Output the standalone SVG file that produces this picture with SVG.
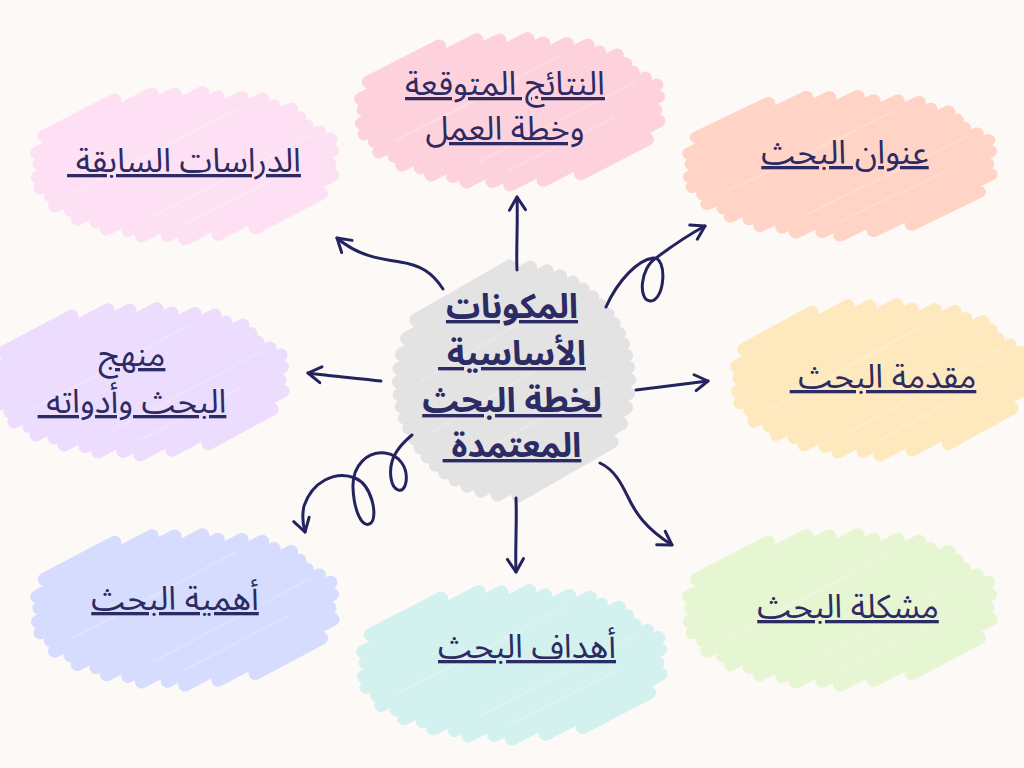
<svg xmlns="http://www.w3.org/2000/svg" xmlns:xlink="http://www.w3.org/1999/xlink" width="1024" height="768" viewBox="0 0 1024 768">
<style>
.sc{fill:none;stroke:currentColor;stroke-width:13;stroke-linecap:round;stroke-linejoin:round}
.tx{fill:none;stroke:#ffffff;stroke-opacity:.2;stroke-width:2;stroke-linecap:round}
.lbl{font-family:"Noto Sans Arabic","Noto Sans","DejaVu Sans",sans-serif;font-size:33px;fill:#2c2b63;text-anchor:middle;direction:rtl;text-decoration:underline;white-space:pre}
.ctr{font-family:"Noto Sans Arabic","Noto Sans","DejaVu Sans",sans-serif;font-size:34px;font-weight:bold;fill:#2c2b63;text-anchor:middle;direction:rtl;text-decoration:underline;white-space:pre}
.ar{fill:none;stroke:#23235f;stroke-width:3;stroke-linecap:round;stroke-linejoin:round}
</style>
<defs>
<symbol id="blob" viewBox="0 0 300 160" preserveAspectRatio="none" overflow="visible">
<path class="sc" d="M14,52 L82,16 M6.7,68.9 L118,9.7 M9,80 L140,10 M7.5,93.4 L167,8.6 M10,104 L182,13 M19.9,111.8 L205,13.4 M24,122 L225,15 M39,126.4 L236,22 M46,135 L253,25 M64,138 L261,33.6 M74,145 L268,42 M95,146.6 L280,48 M108,152 L291,55 M133,151.4 L292.5,66.6 M150,155 L290,80 M182,150.3 L293,91 M218,143.7 L282,109.3"/>
<path class="tx" d="M40,110 L200,25 M120,132 L270,52 M70,95 L160,48 M150,140 L250,88"/>
</symbol>
<symbol id="disc" viewBox="0 0 260 240" preserveAspectRatio="none" overflow="visible">
<path class="sc" d="M35,60.5 L126,8 M26,78.5 L146,9 M21,94 L162,12.6 M18.6,108 L175,17.5 M18,121 L187,23.6 M18.8,133.4 L197,30.4 M20.8,145 L206,38 M24,156 L214,46 M28,166 L221,54.7 M33,176 L227,64 M39,185 L232,73.7 M46,194 L236,84 M54,202 L239,95 M63,209.6 L241,106.6 M73,216.4 L242,118.8 M84.6,222.5 L241,132 M98,227.4 L239,146 M114,231 L234,161.5 M134,232 L225,179.5"/>
<path class="tx" d="M50,170 L200,80 M80,200 L220,120 M40,120 L150,55"/>
</symbol>
<marker id="head" viewBox="-16 -10 20 20" markerWidth="20" markerHeight="20" markerUnits="userSpaceOnUse" refX="0" refY="0" orient="auto">
<path d="M-13,-8 L0,0 L-13,8" fill="none" stroke="#23235f" stroke-width="3" stroke-linecap="round" stroke-linejoin="round"/>
</marker>
</defs>
<rect width="1024" height="768" fill="#fdf9f6"/>

<g id="node-previous-studies">
<use xlink:href="#blob" href="#blob" x="30" y="84" width="310" height="160" color="#fde0f3"/>
<text class="lbl" x="184" y="172">الدراسات السابقة </text>
</g>
<g id="node-expected-results">
<use xlink:href="#blob" href="#blob" x="354" y="30" width="312" height="160" color="#fed2dc"/>
<text class="lbl" x="505" y="95">النتائج المتوقعة</text>
<text class="lbl" x="505" y="140">وخطة العمل</text>
</g>
<g id="node-title">
<use xlink:href="#blob" href="#blob" x="682" y="88" width="316" height="152" color="#ffd3c6"/>
<text class="lbl" x="845" y="164">عنوان البحث</text>
</g>
<g id="node-introduction">
<use xlink:href="#blob" href="#blob" x="730" y="296" width="300" height="164" color="#fde9bd"/>
<text class="lbl" x="883" y="388">مقدمة البحث </text>
</g>
<g id="node-methodology">
<use xlink:href="#blob" href="#blob" x="-10" y="300" width="300" height="160" color="#ecdcfd"/>
<text class="lbl" x="132" y="366">منهج</text>
<text class="lbl" x="132" y="413">البحث وأدواته </text>
</g>
<g id="node-problem">
<use xlink:href="#blob" href="#blob" x="682" y="526" width="316" height="164" color="#e6f5d2"/>
<text class="lbl" x="848" y="618">مشكلة البحث</text>
</g>
<g id="node-objectives">
<use xlink:href="#blob" href="#blob" x="356" y="582" width="312" height="162" color="#d3f1ee"/>
<text class="lbl" x="527" y="658">أهداف البحث</text>
</g>
<g id="node-importance">
<use xlink:href="#blob" href="#blob" x="30" y="526" width="310" height="164" color="#d5dcfd"/>
<text class="lbl" x="175" y="610">أهمية البحث</text>
</g>
<g id="node-center">
<use xlink:href="#disc" href="#disc" x="380" y="258" width="268" height="246" color="#e3e3e3"/>
<text class="ctr" x="512" y="318">المكونات</text>
<text class="ctr" x="512" y="365">الأساسية </text>
<text class="ctr" x="512" y="412">لخطة البحث</text>
<text class="ctr" x="512" y="457">المعتمدة </text>
</g>

<g id="connectors">
<path class="ar" marker-end="url(#head)" d="M517,270 C516,250 518,225 517,197"/>
<path class="ar" marker-end="url(#head)" d="M516,498 C517,525 515,550 516,572"/>
<path class="ar" marker-end="url(#head)" d="M381,381 C355,378 330,376 308,373"/>
<path class="ar" marker-end="url(#head)" d="M636,390 C660,387 685,384 708,381"/>
<path class="ar" marker-end="url(#head)" d="M443,289 C432,272 420,265 400,262 C380,259 358,256 337,238"/>
<path class="ar" marker-end="url(#head)" d="M606,307 C618,280 638,260 653,258 C668,256 665,302 650,301 C638,300 640,268 656,258 C672,246 690,234 705,226"/>
<path class="ar" marker-end="url(#head)" d="M412,435 C400,445 388,458 391,478 C393,492 404,495 406,482 C408,468 400,455 385,453 C368,451 352,465 353,488 C354,510 362,530 371,523 C378,516 372,485 355,478 C335,470 312,482 304,506 C302,515 303,525 305,532"/>
<path class="ar" marker-end="url(#head)" d="M600,463 C615,470 622,485 628,497 C635,512 645,528 672,545"/>
</g>
</svg>
